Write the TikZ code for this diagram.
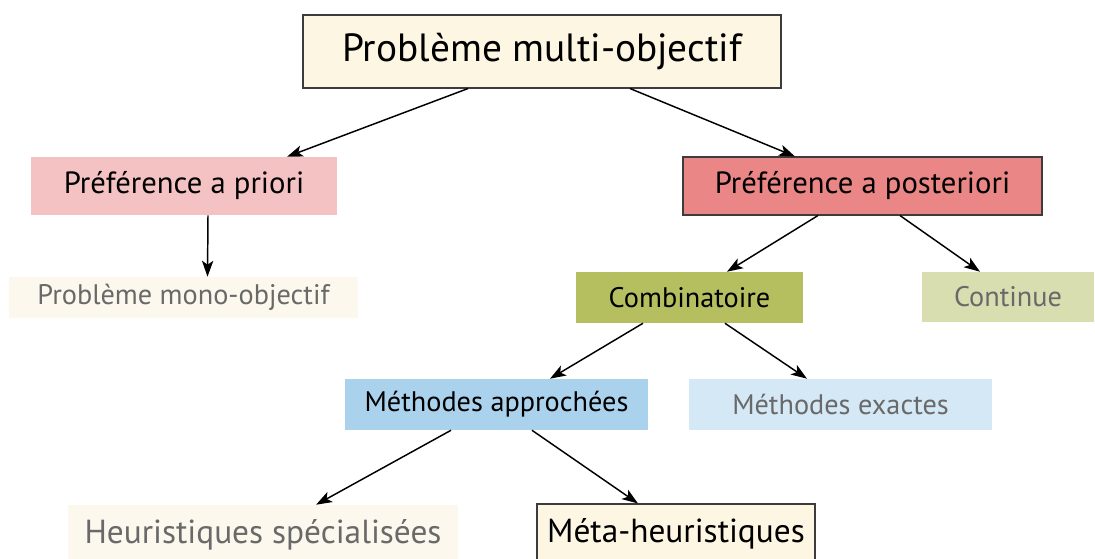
\documentclass[tikz,border=0pt]{standalone}
\usepackage{fontspec}
\setmainfont{PT Sans}
\usepackage{xcolor}
\definecolor{cream}{RGB}{253,246,227}
\definecolor{palecream}{RGB}{252,248,237}
\definecolor{rosepink}{RGB}{244,194,194}
\definecolor{salmonred}{RGB}{235,134,134}
\definecolor{olivegreen}{RGB}{181,191,96}
\definecolor{paleolive}{RGB}{217,222,176}
\definecolor{skyblue}{RGB}{171,210,236}
\definecolor{paleblue}{RGB}{213,232,246}
\definecolor{bordergray}{RGB}{60,60,60}
\definecolor{fadedtext}{RGB}{105,105,105}
\usepackage{tikz}
\usetikzlibrary{arrows.meta,positioning}
\tikzset{
  >={Stealth[length=12pt,width=8.5pt,inset=3pt]},
  box/.style={rectangle,inner sep=0pt,font=\fontsize{21.2}{25}\selectfont},
  midbox/.style={box,font=\fontsize{23}{27}\selectfont},
  bigbox/.style={box,font=\fontsize{25}{30}\selectfont},
  framed/.style={draw=bordergray,line width=0.8pt},
  faded/.style={text=fadedtext},
  edge/.style={->,line width=1.1pt,draw=black}
}

\begin{document}
\begin{tikzpicture}[x=0.75pt,y=-0.75pt]
  \clip (0,0) rectangle (1095,559);
  % Nodes
  \node[bigbox,framed,fill=cream,minimum width=358.5pt,minimum height=54.75pt,font=\fontsize{29.5}{34}\selectfont] (multi) at (542,51.5) {Problème multi-objectif};
  \node[midbox,fill=rosepink,minimum width=229.5pt,minimum height=43.5pt] (priori) at (184,186) {Préférence a priori};
  \node[midbox,framed,fill=salmonred,minimum width=269.25pt,minimum height=43.5pt] (posteriori) at (862.5,186) {Préférence a posteriori};
  \node[box,faded,fill=palecream,minimum width=261.75pt,minimum height=30.75pt] (mono) at (183.5,297.5) {Problème mono-objectif};
  \node[box,fill=olivegreen,minimum width=170.25pt,minimum height=38.25pt] (combi) at (689.5,297.5) {Combinatoire};
  \node[box,faded,fill=paleolive,minimum width=129pt,minimum height=37.5pt] (continue) at (1008,297) {Continue};
  \node[box,fill=skyblue,minimum width=227.25pt,minimum height=38.25pt] (approx) at (496.5,404.5) {Méthodes approchées};
  \node[box,faded,fill=paleblue,minimum width=227.25pt,minimum height=38.25pt] (exact) at (840.5,404.5) {Méthodes exactes};
  \node[bigbox,faded,fill=palecream,minimum width=292.5pt,minimum height=45pt] (heur) at (263,535) {Heuristiques spécialisées};
  \node[bigbox,framed,fill=cream,minimum width=208.5pt,minimum height=45pt] (meta) at (676,534) {Méta-heuristiques};

  % Arrows
  \draw[edge] ([xshift=-55.5pt]multi.south) -- ([xshift=77.25pt]priori.north);
  \draw[edge] ([xshift=66pt]multi.south) -- ([xshift=-50.6pt]posteriori.north);
  \draw[edge] ([xshift=18pt]priori.south) -- ([xshift=18pt]mono.north);
  \draw[edge] ([xshift=-33.4pt]posteriori.south) -- ([xshift=28.1pt]combi.north);
  \draw[edge] ([xshift=28.1pt]posteriori.south) -- ([xshift=-21pt]continue.north);
  \draw[edge] ([xshift=-34.9pt]combi.south) -- ([xshift=40.1pt]approx.north);
  \draw[edge] ([xshift=26.6pt]combi.south) -- ([xshift=-25.1pt]exact.north);
  \draw[edge] ([xshift=-34.1pt]approx.south) -- ([xshift=39.8pt]heur.north);
  \draw[edge] ([xshift=26.6pt]approx.south) -- ([xshift=-28.5pt]meta.north);
\end{tikzpicture}
\end{document}
